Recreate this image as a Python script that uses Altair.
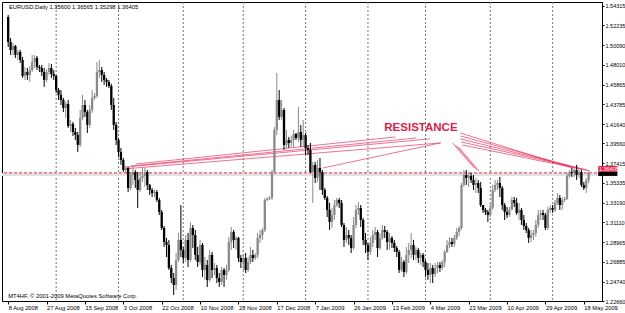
import altair as alt
import pandas as pd
import numpy as np

# ---------------- data (EURUSD daily) ----------------
first_open = 1.5314
closes = [
1.5045,1.4960,1.5002,1.4906,1.4938,1.4852,1.4681,1.4723,1.4691,1.4745,
1.4831,1.4874,1.4777,1.4766,1.4723,1.4638,1.4723,1.4766,1.4702,1.4681,
1.4530,1.4477,1.4423,1.4337,1.4380,1.4144,1.4166,1.4080,1.4047,1.3940,
1.4230,1.4369,1.4294,1.4155,1.4316,1.4445,1.4466,1.4723,1.4745,1.4691,
1.4638,1.4616,1.4573,1.4369,1.4155,1.3994,1.3865,1.3779,1.3672,1.3693,
1.3479,1.3618,1.3650,1.3565,1.3457,1.3586,1.3608,1.3650,1.3511,1.3457,
1.3425,1.3436,1.3350,1.3221,1.3050,1.2899,1.2867,1.2620,1.2513,1.2438,
1.2706,1.2921,1.2814,1.2728,1.2921,1.2706,1.3050,1.2974,1.2760,1.2685,
1.2867,1.2599,1.2653,1.2492,1.2760,1.2599,1.2620,1.2513,1.2470,1.2599,
1.2545,1.2599,1.2899,1.3007,1.2921,1.2942,1.2728,1.2685,1.2728,1.2599,
1.2685,1.2760,1.2728,1.2760,1.2942,1.2974,1.3028,1.3350,1.3361,1.3372,
1.3650,1.4101,1.4423,1.4241,1.4316,1.3940,1.3994,1.3962,1.3994,1.4058,
1.4015,1.4080,1.3994,1.4047,1.3908,1.3887,1.3650,1.3726,1.3586,1.3693,
1.3650,1.3457,1.3372,1.3243,1.3114,1.3189,1.3296,1.3350,1.3318,1.3082,
1.2921,1.2974,1.2942,1.2835,1.3082,1.3243,1.3264,1.3135,1.2921,1.2867,
1.2792,1.2889,1.2974,1.3007,1.2835,1.2942,1.3028,1.3007,1.2899,1.2942,
1.2889,1.2835,1.2792,1.2599,1.2685,1.2577,1.2760,1.2814,1.2867,1.2760,
1.2814,1.2728,1.2760,1.2685,1.2599,1.2545,1.2620,1.2556,1.2620,1.2653,
1.2620,1.2685,1.2792,1.2867,1.2899,1.2878,1.2942,1.3007,1.3050,1.3511,
1.3618,1.3586,1.3608,1.3565,1.3511,1.3532,1.3479,1.3296,1.3243,1.3221,
1.3189,1.3264,1.3457,1.3511,1.3532,1.3479,1.3296,1.3221,1.3189,1.3243,
1.3350,1.3318,1.3211,1.3243,1.3135,1.3071,1.3028,1.2942,1.2974,1.2996,
1.3082,1.3189,1.3211,1.3189,1.3050,1.3243,1.3264,1.3243,1.3318,1.3372,
1.3296,1.3350,1.3361,1.3608,1.3650,1.3640,1.3672,1.3618,1.3650,1.3511,
1.3479,1.3560,1.36405]
highs = [
1.5335,1.5088,1.5035,1.5013,1.4960,1.4960,1.4884,1.4777,1.4766,1.4788,
1.4906,1.4906,1.4895,1.4799,1.4799,1.4766,1.4745,1.4820,1.4809,1.4745,
1.4691,1.4552,1.4530,1.4445,1.4402,1.4423,1.4208,1.4187,1.4123,1.4080,
1.4316,1.4477,1.4423,1.4316,1.4369,1.4530,1.4498,1.4831,1.4852,1.4777,
1.4723,1.4659,1.4638,1.4595,1.4445,1.4187,1.4015,1.3908,1.3801,1.3715,
1.3704,1.3650,1.3704,1.3672,1.3650,1.3640,1.3693,1.3693,1.3672,1.3522,
1.3479,1.3457,1.3457,1.3372,1.3243,1.3071,1.2942,1.2921,1.2653,1.2567,
1.2781,1.2996,1.3296,1.2846,1.2974,1.2996,1.3114,1.3082,1.3028,1.2846,
1.2921,1.2889,1.2738,1.2706,1.2814,1.2792,1.2674,1.2653,1.2567,1.2631,
1.2620,1.2653,1.2953,1.3060,1.3028,1.2964,1.2953,1.2760,1.2771,1.2781,
1.2738,1.2846,1.2814,1.2781,1.2996,1.3028,1.3050,1.3372,1.3382,1.3393,
1.3672,1.4133,1.4713,1.4530,1.4423,1.4337,1.4101,1.4026,1.4037,1.4101,
1.4069,1.4348,1.4155,1.4208,1.4069,1.3940,1.3962,1.3758,1.3758,1.3779,
1.3801,1.3672,1.3479,1.3393,1.3318,1.3264,1.3350,1.3372,1.3372,1.3350,
1.3103,1.3060,1.3028,1.2974,1.3168,1.3296,1.3329,1.3296,1.3157,1.2996,
1.2889,1.2953,1.3028,1.3060,1.3028,1.2996,1.3082,1.3071,1.3028,1.2996,
1.2964,1.2921,1.2856,1.2814,1.2738,1.2706,1.2846,1.2889,1.2996,1.2921,
1.2846,1.2835,1.2781,1.2781,1.2706,1.2674,1.2674,1.2653,1.2674,1.2685,
1.2685,1.2706,1.2814,1.2921,1.2953,1.2942,1.2974,1.3050,1.3071,1.3532,
1.3672,1.3672,1.3650,1.3640,1.3618,1.3586,1.3565,1.3543,1.3296,1.3264,
1.3243,1.3318,1.3511,1.3565,1.3565,1.3597,1.3500,1.3318,1.3275,1.3275,
1.3382,1.3382,1.3372,1.3318,1.3264,1.3189,1.3103,1.3050,1.3028,1.3028,
1.3135,1.3243,1.3243,1.3243,1.3211,1.3275,1.3296,1.3296,1.3350,1.3425,
1.3404,1.3382,1.3382,1.3640,1.3672,1.3693,1.3704,1.3726,1.3693,1.3672,
1.3543,1.3586,1.36565]
lows = [
1.4992,1.4906,1.4906,1.4874,1.4852,1.4820,1.4659,1.4638,1.4638,1.4616,
1.4723,1.4766,1.4745,1.4723,1.4681,1.4563,1.4616,1.4691,1.4659,1.4638,
1.4498,1.4423,1.4369,1.4294,1.4230,1.4123,1.4080,1.4037,1.3994,1.3865,
1.3919,1.4208,1.4241,1.4069,1.4123,1.4284,1.4423,1.4445,1.4659,1.4616,
1.4584,1.4563,1.4552,1.4316,1.4101,1.3940,1.3811,1.3726,1.3650,1.3640,
1.3436,1.3457,1.3511,1.3479,1.3264,1.3436,1.3543,1.3490,1.3457,1.3404,
1.3382,1.3382,1.3329,1.3189,1.3028,1.2846,1.2738,1.2599,1.2459,1.2331,
1.2384,1.2685,1.2738,1.2674,1.2685,1.2631,1.2685,1.2835,1.2706,1.2631,
1.2653,1.2524,1.2492,1.2417,1.2470,1.2513,1.2545,1.2459,1.2417,1.2438,
1.2417,1.2492,1.2577,1.2814,1.2835,1.2814,1.2685,1.2620,1.2599,1.2567,
1.2577,1.2663,1.2685,1.2706,1.2728,1.2889,1.2921,1.3007,1.3339,1.3350,
1.3350,1.3629,1.4047,1.4208,1.4208,1.3887,1.3908,1.3908,1.3919,1.3919,
1.3994,1.3972,1.3919,1.3919,1.3833,1.3833,1.3640,1.3318,1.3532,1.3543,
1.3457,1.3404,1.3350,1.3168,1.3028,1.3050,1.3135,1.3275,1.3264,1.3060,
1.2846,1.2889,1.2867,1.2781,1.2814,1.3050,1.3189,1.3060,1.2867,1.2781,
1.2706,1.2760,1.2846,1.2921,1.2738,1.2814,1.2921,1.2942,1.2814,1.2814,
1.2835,1.2792,1.2738,1.2567,1.2577,1.2524,1.2556,1.2674,1.2728,1.2706,
1.2706,1.2674,1.2653,1.2631,1.2524,1.2492,1.2459,1.2459,1.2524,1.2567,
1.2577,1.2599,1.2631,1.2781,1.2835,1.2846,1.2846,1.2921,1.2964,1.3028,
1.3490,1.3511,1.3490,1.3532,1.3457,1.3425,1.3425,1.3275,1.3211,1.3189,
1.3114,1.3168,1.3243,1.3436,1.3457,1.3382,1.3243,1.3135,1.3157,1.3168,
1.3264,1.3275,1.3189,1.3135,1.3082,1.3028,1.2996,1.2889,1.2899,1.2921,
1.2953,1.3050,1.3135,1.3135,1.3028,1.3028,1.3211,1.3211,1.3221,1.3296,
1.3243,1.3243,1.3329,1.3350,1.3586,1.3597,1.3597,1.3565,1.3586,1.3490,
1.3457,1.3425,1.35298]

date_labels = ["8 Aug 2008", "27 Aug 2008", "15 Sep 2008", "3 Oct 2008", "22 Oct 2008",
               "10 Nov 2008", "28 Nov 2008", "17 Dec 2008", "7 Jan 2009", "26 Jan 2009",
               "13 Feb 2009", "4 Mar 2009", "23 Mar 2009", "10 Apr 2009", "29 Apr 2009",
               "18 May 2009"]
date_label_bars = [0, 16, 32, 48, 64, 80, 96, 112, 128, 144, 160, 176, 192, 208, 224, 240]
month_start_bars = [20, 46, 73, 98, 124, 150, 174, 201, 227]
price_ticks = [1.54315, 1.52235, 1.50090, 1.48010, 1.45865, 1.43785, 1.41640, 1.39560,
               1.37415, 1.35335, 1.33190, 1.31110, 1.28965, 1.26885, 1.24740, 1.22660]

bid_price = 1.36405
ask_band = 1.3622

# resistance lines (bar index, price) start -> end
res_i1 = [48.3, 49.1, 51.2, 53.2, 131.1, 185.2, 186.5, 187.7, 188.5, 188.5, 188.5, 188.9, 189.3]
res_p1 = [1.3683, 1.3704, 1.3715, 1.3736, 1.3693, 1.3962, 1.3940, 1.3919, 1.4069, 1.4037, 1.4005, 1.3972, 1.3940]
res_i2 = [180.3, 175.8, 170.1, 161.5, 180.3, 194.3, 195.5, 196.3, 235.3, 237.3, 239.3, 241.4, 242.6]
res_p2 = [1.3962, 1.4005, 1.4015, 1.4026, 1.3962, 1.3693, 1.3672, 1.3661, 1.3693, 1.3693, 1.3683, 1.3672, 1.3661]

# ---------------- tables ----------------
opens = [first_open] + closes[:-1]
df = pd.DataFrame({"i": list(range(len(closes))), "open": opens, "high": highs,
                   "low": lows, "close": closes})
df["dir"] = np.where(df["close"] >= df["open"], "up", "down")

grid_df = pd.DataFrame({"i": month_start_bars})
res_df = pd.DataFrame({"i": res_i1, "p": res_p1, "i2": res_i2, "p2": res_p2})

FONT = "Liberation Sans"
xscale = alt.Scale(domain=[-0.5, 245.5], nice=False, zero=False)
yscale = alt.Scale(domain=[1.2266, 1.5474], nice=False, zero=False)

label_expr = "[" + ",".join("'%s'" % s for s in date_labels) + "][round(datum.value/16)]"

x_axis = alt.Axis(values=date_label_bars, labelExpr=label_expr, labelAlign="left",
                  labelFontSize=5.8, labelFont=FONT, labelColor="black", tickColor="black",
                  tickSize=3, labelPadding=0, domainColor="black", grid=False, title=None,
                  labelOverlap=False, labelFlush=False, labelBound=False, labelBaseline="top")
y_axis = alt.Axis(values=price_ticks, format=".5f", orient="right", labelFontSize=5.5,
                  labelFont=FONT, labelColor="black", tickColor="black", tickSize=2,
                  labelPadding=1, domainColor="black", grid=False, title=None,
                  labelOverlap=False, labelFlush=False, labelBound=False)


def X(f="i"):
    return alt.X(f"{f}:Q", scale=xscale, axis=x_axis)


def Y(f="p"):
    return alt.Y(f"{f}:Q", scale=yscale, axis=y_axis)


grid = alt.Chart(grid_df).mark_rule(color="#777777", strokeDash=[2, 2], strokeWidth=1).encode(
    x=X())

band = alt.Chart(pd.DataFrame({"p": [ask_band]})).mark_rule(
    color="#e2e2e2", strokeWidth=3).encode(y=Y())
bidline = alt.Chart(pd.DataFrame({"p": [bid_price]})).mark_rule(
    color="#e8284e", strokeDash=[3, 2], strokeWidth=1).encode(y=Y())

res = alt.Chart(res_df).mark_rule(color="#e8305a", strokeWidth=0.8, opacity=0.85).encode(
    x=X(), y=Y(), x2="i2:Q", y2="p2:Q")

color = alt.Color("dir:N", scale=alt.Scale(domain=["up", "down"], range=["#8a8a8a", "#000000"]),
                  legend=None)
wicks = alt.Chart(df).mark_rule(strokeWidth=1).encode(
    x=X(), y=Y("low"), y2="high:Q", color=color)
bodies = alt.Chart(df).mark_bar(size=2.3).encode(
    x=X(), y=Y("open"), y2="close:Q", color=color)

res_text = alt.Chart(pd.DataFrame({"i": [172.1], "p": [1.4123], "t": ["RESISTANCE"]})).mark_text(
    font=FONT, fontSize=11.5, fontWeight="bold", color="#e0204a", align="center",
    baseline="middle").encode(x=X(), y=Y(), text="t:N")

header = alt.Chart(pd.DataFrame({"i": [0.3], "p": [1.5421],
                                 "t": ["EURUSD,Daily  1.35600 1.36565 1.35298 1.36405"]})).mark_text(
    font=FONT, fontSize=5.8, color="black", align="left", baseline="middle").encode(
    x=X(), y=Y(), text="t:N")
footer = alt.Chart(pd.DataFrame({"i": [0.0], "p": [1.2315],
                                 "t": ["MT4HF, © 2001-2009 MetaQuotes Software Corp."]})).mark_text(
    font=FONT, fontSize=5.8, color="black", align="left", baseline="middle").encode(
    x=X(), y=Y(), text="t:N")

# current price tag on the price scale
tag_red = alt.Chart(pd.DataFrame({"i": [246.0], "i2": [254.0], "p": [1.3715], "p2": [1.3650]})).mark_rect(
    color="#e8284e").encode(x=X(), x2="i2:Q", y=Y(), y2="p2:Q")
tag_black = alt.Chart(pd.DataFrame({"i": [246.0], "i2": [254.0], "p": [1.3650], "p2": [1.3608]})).mark_rect(
    color="#000000").encode(x=X(), x2="i2:Q", y=Y(), y2="p2:Q")
tag_text = alt.Chart(pd.DataFrame({"i": [246.3], "p": [1.3683], "t": ["1.36405"]})).mark_text(
    font=FONT, fontSize=5.5, color="white", align="left", baseline="middle").encode(
    x=X(), y=Y(), text="t:N")

chart = alt.layer(grid, band, bidline, res, wicks, bodies, res_text, header, footer,
                  tag_red, tag_black, tag_text).properties(
    width=600, height=299,
    autosize=alt.AutoSizeParams(type="none"),
    padding={"left": 2, "top": 2, "right": 23, "bottom": 12},
    background="white",
).configure_view(stroke="black", strokeWidth=1, fill="white")

chart.save("out.html", embed_options={"renderer": "svg", "actions": False})
